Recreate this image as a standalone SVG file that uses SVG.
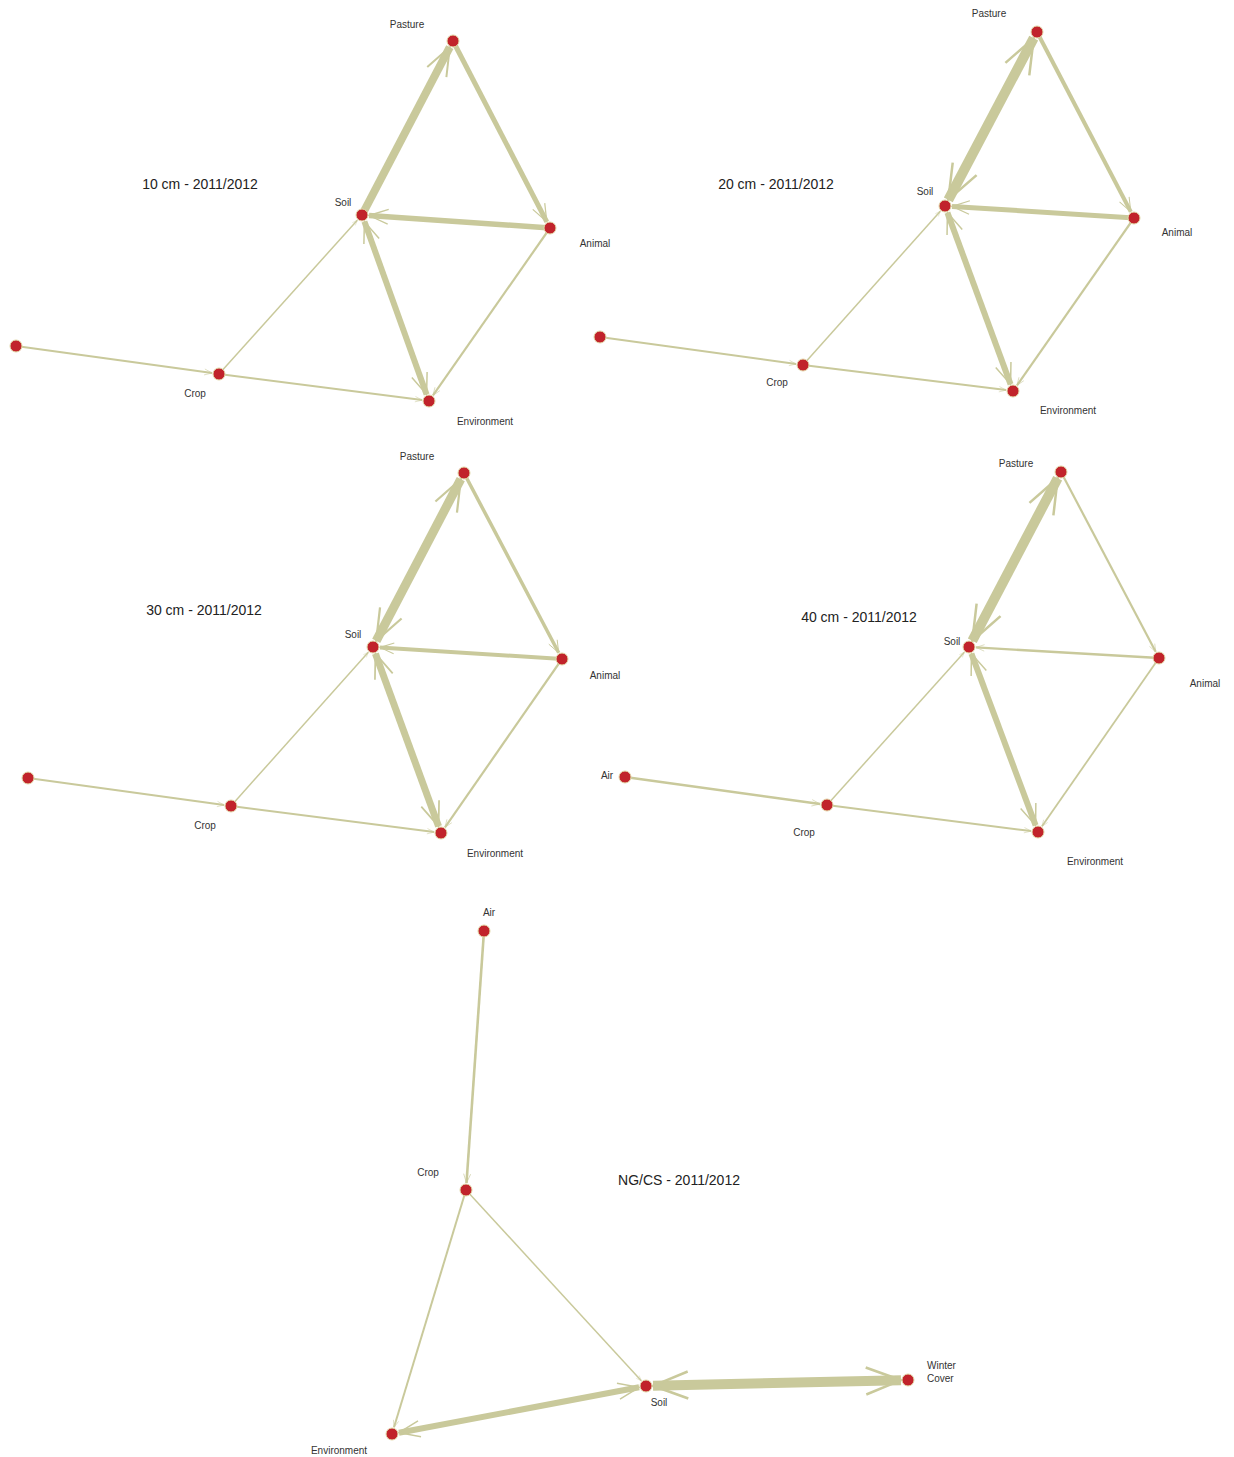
<svg xmlns="http://www.w3.org/2000/svg" width="1234" height="1457" viewBox="0 0 1234 1457">
<style>
.e{stroke:#c9c99b;fill:none;stroke-linecap:butt}
.n{fill:#c1232b;stroke:#e2d8a8;stroke-width:1}
.l{font-family:"Liberation Sans",Arial,sans-serif;font-size:10px;fill:#333333;text-anchor:middle}
.t{font-family:"Liberation Sans",Arial,sans-serif;font-size:14px;fill:#222222;text-anchor:middle}
</style>
<defs>
<marker id="arr" markerUnits="strokeWidth" markerWidth="8" markerHeight="8" orient="auto-start-reverse" refX="0" refY="0" overflow="visible">
<path d="M -3.5 -1.35 L 0 0 L -3.5 1.35" fill="none" stroke="#c9c99b" stroke-width="0.25"/>
</marker>
</defs>
<rect width="1234" height="1457" fill="#ffffff"/>
<g id="connectors">
<!-- panel 1 -->
<line class="e" x1="362" y1="215" x2="449.8" y2="47.2" stroke-width="8" marker-end="url(#arr)"/>
<line class="e" x1="453" y1="41" x2="546.8" y2="221.8" stroke-width="5" marker-end="url(#arr)"/>
<line class="e" x1="550" y1="228" x2="369" y2="215.5" stroke-width="5.5" marker-end="url(#arr)"/>
<line class="e" x1="364.4" y1="221.6" x2="426.6" y2="394.4" stroke-width="6" marker-start="url(#arr)" marker-end="url(#arr)"/>
<line class="e" x1="550" y1="228" x2="433" y2="395.3" stroke-width="2.2" marker-end="url(#arr)"/>
<line class="e" x1="219" y1="374" x2="357.3" y2="220.2" stroke-width="1.5" marker-end="url(#arr)"/>
<line class="e" x1="219" y1="374" x2="422.1" y2="400.1" stroke-width="2" marker-end="url(#arr)"/>
<line class="e" x1="16" y1="346" x2="212.1" y2="373" stroke-width="2.2" marker-end="url(#arr)"/>
<!-- panel 2 -->
<line class="e" x1="948.3" y1="199.8" x2="1033.7" y2="38.2" stroke-width="10" marker-start="url(#arr)" marker-end="url(#arr)"/>
<line class="e" x1="1037" y1="32" x2="1130.8" y2="211.8" stroke-width="4" marker-end="url(#arr)"/>
<line class="e" x1="1134" y1="218" x2="952" y2="206.4" stroke-width="5" marker-end="url(#arr)"/>
<line class="e" x1="947.4" y1="212.6" x2="1010.6" y2="384.4" stroke-width="6" marker-start="url(#arr)" marker-end="url(#arr)"/>
<line class="e" x1="1134" y1="218" x2="1017" y2="385.3" stroke-width="2.2" marker-end="url(#arr)"/>
<line class="e" x1="803" y1="365" x2="940.3" y2="211.2" stroke-width="1.5" marker-end="url(#arr)"/>
<line class="e" x1="803" y1="365" x2="1006.1" y2="390.1" stroke-width="2" marker-end="url(#arr)"/>
<line class="e" x1="600" y1="337" x2="796.1" y2="364" stroke-width="2" marker-end="url(#arr)"/>
<!-- panel 3 -->
<line class="e" x1="376.2" y1="640.8" x2="460.8" y2="479.2" stroke-width="9" marker-start="url(#arr)" marker-end="url(#arr)"/>
<line class="e" x1="464" y1="473" x2="558.7" y2="652.8" stroke-width="3.5" marker-end="url(#arr)"/>
<line class="e" x1="562" y1="659" x2="380" y2="647.4" stroke-width="4" marker-end="url(#arr)"/>
<line class="e" x1="375.4" y1="653.6" x2="438.6" y2="826.4" stroke-width="7" marker-start="url(#arr)" marker-end="url(#arr)"/>
<line class="e" x1="562" y1="659" x2="445" y2="827.3" stroke-width="2.2" marker-end="url(#arr)"/>
<line class="e" x1="231" y1="806" x2="368.3" y2="652.2" stroke-width="1.5" marker-end="url(#arr)"/>
<line class="e" x1="231" y1="806" x2="434.1" y2="832.1" stroke-width="2" marker-end="url(#arr)"/>
<line class="e" x1="28" y1="778" x2="224.1" y2="805" stroke-width="2" marker-end="url(#arr)"/>
<!-- panel 4 -->
<line class="e" x1="972.3" y1="640.8" x2="1057.7" y2="478.2" stroke-width="10" marker-start="url(#arr)" marker-end="url(#arr)"/>
<line class="e" x1="1061" y1="472" x2="1155.7" y2="651.8" stroke-width="2.2" marker-end="url(#arr)"/>
<line class="e" x1="1159" y1="658" x2="976" y2="647.4" stroke-width="2.4" marker-end="url(#arr)"/>
<line class="e" x1="971.4" y1="653.6" x2="1035.6" y2="825.4" stroke-width="6" marker-start="url(#arr)" marker-end="url(#arr)"/>
<line class="e" x1="1159" y1="658" x2="1042" y2="826.3" stroke-width="1.8" marker-end="url(#arr)"/>
<line class="e" x1="827" y1="805" x2="964.3" y2="652.2" stroke-width="1.5" marker-end="url(#arr)"/>
<line class="e" x1="827" y1="805" x2="1031.1" y2="831.1" stroke-width="2" marker-end="url(#arr)"/>
<line class="e" x1="625" y1="777" x2="820.1" y2="804" stroke-width="2.4" marker-end="url(#arr)"/>
<!-- panel 5 -->
<line class="e" x1="484" y1="931" x2="466.5" y2="1183" stroke-width="2.6" marker-end="url(#arr)"/>
<line class="e" x1="466" y1="1190" x2="394" y2="1427.3" stroke-width="2" marker-end="url(#arr)"/>
<line class="e" x1="466" y1="1190" x2="641.3" y2="1380.8" stroke-width="1.5" marker-end="url(#arr)"/>
<line class="e" x1="639.1" y1="1387.3" x2="398.9" y2="1432.7" stroke-width="6" marker-start="url(#arr)" marker-end="url(#arr)"/>
<line class="e" x1="653" y1="1385.8" x2="901" y2="1380.2" stroke-width="10" marker-start="url(#arr)" marker-end="url(#arr)"/>
</g>
<g id="titles">
<text class="t" x="200" y="189">10 cm - 2011/2012</text>
<text class="t" x="776" y="189">20 cm - 2011/2012</text>
<text class="t" x="204" y="615">30 cm - 2011/2012</text>
<text class="t" x="859" y="622">40 cm - 2011/2012</text>
<text class="t" x="679" y="1185">NG/CS - 2011/2012</text>
</g>
<g id="p1-pasture"><circle class="n" cx="453" cy="41" r="6"/><text class="l" x="407" y="28">Pasture</text></g>
<g id="p1-soil"><circle class="n" cx="362" cy="215" r="6"/><text class="l" x="343" y="206">Soil</text></g>
<g id="p1-animal"><circle class="n" cx="550" cy="228" r="6"/><text class="l" x="595" y="247">Animal</text></g>
<g id="p1-crop"><circle class="n" cx="219" cy="374" r="6"/><text class="l" x="195" y="397">Crop</text></g>
<g id="p1-environment"><circle class="n" cx="429" cy="401" r="6"/><text class="l" x="485" y="425">Environment</text></g>
<g id="p1-air"><circle class="n" cx="16" cy="346" r="6"/></g>
<g id="p2-pasture"><circle class="n" cx="1037" cy="32" r="6"/><text class="l" x="989" y="17">Pasture</text></g>
<g id="p2-soil"><circle class="n" cx="945" cy="206" r="6"/><text class="l" x="925" y="195">Soil</text></g>
<g id="p2-animal"><circle class="n" cx="1134" cy="218" r="6"/><text class="l" x="1177" y="236">Animal</text></g>
<g id="p2-crop"><circle class="n" cx="803" cy="365" r="6"/><text class="l" x="777" y="386">Crop</text></g>
<g id="p2-environment"><circle class="n" cx="1013" cy="391" r="6"/><text class="l" x="1068" y="414">Environment</text></g>
<g id="p2-air"><circle class="n" cx="600" cy="337" r="6"/></g>
<g id="p3-pasture"><circle class="n" cx="464" cy="473" r="6"/><text class="l" x="417" y="460">Pasture</text></g>
<g id="p3-soil"><circle class="n" cx="373" cy="647" r="6"/><text class="l" x="353" y="638">Soil</text></g>
<g id="p3-animal"><circle class="n" cx="562" cy="659" r="6"/><text class="l" x="605" y="679">Animal</text></g>
<g id="p3-crop"><circle class="n" cx="231" cy="806" r="6"/><text class="l" x="205" y="829">Crop</text></g>
<g id="p3-environment"><circle class="n" cx="441" cy="833" r="6"/><text class="l" x="495" y="857">Environment</text></g>
<g id="p3-air"><circle class="n" cx="28" cy="778" r="6"/></g>
<g id="p4-pasture"><circle class="n" cx="1061" cy="472" r="6"/><text class="l" x="1016" y="467">Pasture</text></g>
<g id="p4-soil"><circle class="n" cx="969" cy="647" r="6"/><text class="l" x="952" y="645">Soil</text></g>
<g id="p4-animal"><circle class="n" cx="1159" cy="658" r="6"/><text class="l" x="1205" y="687">Animal</text></g>
<g id="p4-crop"><circle class="n" cx="827" cy="805" r="6"/><text class="l" x="804" y="836">Crop</text></g>
<g id="p4-environment"><circle class="n" cx="1038" cy="832" r="6"/><text class="l" x="1095" y="865">Environment</text></g>
<g id="p4-air"><circle class="n" cx="625" cy="777" r="6"/><text class="l" x="607" y="779">Air</text></g>
<g id="p5-air"><circle class="n" cx="484" cy="931" r="6"/><text class="l" x="489" y="916">Air</text></g>
<g id="p5-crop"><circle class="n" cx="466" cy="1190" r="6"/><text class="l" x="428" y="1176">Crop</text></g>
<g id="p5-soil"><circle class="n" cx="646" cy="1386" r="6"/><text class="l" x="659" y="1406">Soil</text></g>
<g id="p5-winter-cover"><circle class="n" cx="908" cy="1380" r="6"/><text class="l" x="927" y="1369" style="text-anchor:start">Winter</text><text class="l" x="927" y="1382" style="text-anchor:start">Cover</text></g>
<g id="p5-environment"><circle class="n" cx="392" cy="1434" r="6"/><text class="l" x="339" y="1454">Environment</text></g>
</svg>
